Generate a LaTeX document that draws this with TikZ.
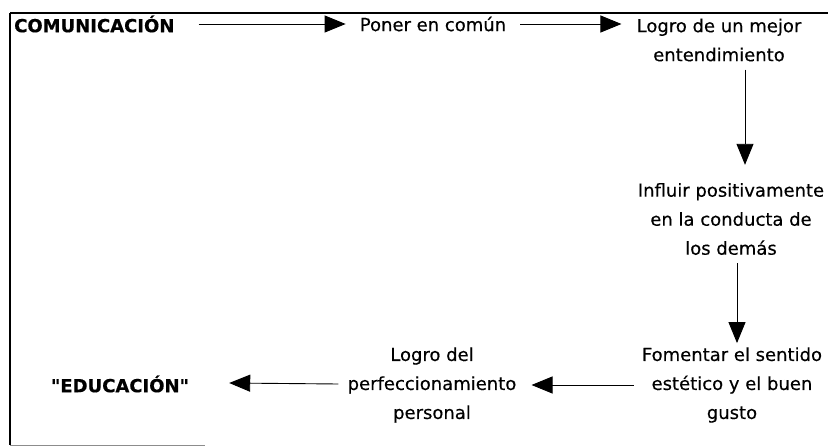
\documentclass[tikz,border=0pt]{standalone}
\usepackage{fontspec}
\setmainfont{DejaVu Sans}[FakeBold=0.4,Ligatures=TeXOff]
\usetikzlibrary{arrows.meta,calc}
\begin{document}
\begin{tikzpicture}[x=1pt,y=-1pt,
  txt/.style={inner sep=0pt,align=center,font=\fontsize{18}{29}\selectfont},
  btxt/.style={inner sep=0pt,font=\fontsize{18}{29}\selectfont\bfseries},
  arr/.style={line width=0.9pt,-{Triangle[length=21pt,width=17pt]}}]
\useasboundingbox (0,0) rectangle (828,447);
% frame
\draw[line width=1.4pt] (10,13) -- (828,13);
\draw[line width=1.2pt] (10,13) -- (10,445);
\draw[line width=1pt,black!45] (10,445) -- (205,445);
% nodes
\node[btxt,anchor=west] (com) at (14,24) {COMUNICACIÓN};
\node[txt] (poner) at (433,24) {Poner en común};
\node[txt] (logro) at (719,40) {Logro de un mejor\\entendimiento};
\node[txt] (infl) at (731,219) {Influir positivamente\\en la conducta de\\los demás};
\node[txt] (fom) at (732,385) {Fomentar el sentido\\estético y el buen\\gusto};
\node[txt] (perf) at (432,385) {Logro del\\perfeccionamiento\\personal};
\node[btxt] (edu) at (120,384) {"EDUCACIÓN"};
% connectors
\draw[arr] ($(com.east)+(24,0)$) -- ($(poner.west)+(-14,0)$);
\draw[arr] ($(poner.east)+(14,0)$) -- ($(logro.west)+(-15,-16)$);
\draw[arr] ($(logro.south)+(26,8)$) -- ($(infl.north)+(14,-18)$);
\draw[arr] ($(infl.south)+(6,8)$) -- ($(fom.north)+(5,-4)$);
\draw[arr] ($(fom.west)+(-8,0)$) -- ($(perf.east)+(15,0)$);
\draw[arr] ($(perf.west)+(-9,-1)$) -- ($(edu.east)+(40,-1)$);
\end{tikzpicture}
\end{document}
